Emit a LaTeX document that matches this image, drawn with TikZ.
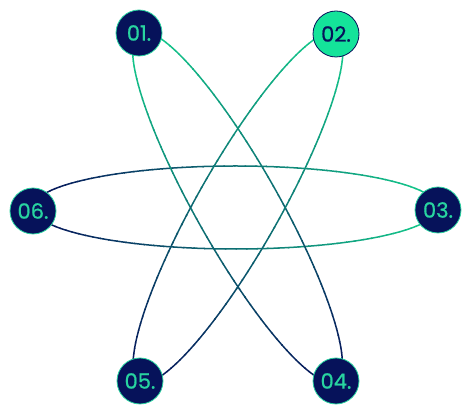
\documentclass[tikz,border=0pt]{standalone}
\usepackage{fontspec}
\setmainfont{Poppins}
\newfontfamily\numfont{Poppins}[FakeBold=0.8]
\definecolor{navy}{RGB}{6,18,90}
\definecolor{mint}{RGB}{20,227,154}
\definecolor{linegreen}{RGB}{20,206,140}
\definecolor{txtgreen}{RGB}{40,212,160}
\newcommand\gradEll[5]{%
  \begin{scope}[shift={(#1,#2)}, rotate=#5]
  \foreach \t in {0,3,...,357}{%
    \pgfmathsetmacro\p{50+50*cos(\t+1.5)}%
    \draw[color=linegreen!\p!navy, line width=1.5pt] (\t:#3 and #4) arc[start angle=\t, end angle=\t+3.4, x radius=#3, y radius=#4];
  }
  \end{scope}}
\begin{document}
\begin{tikzpicture}[x=1pt,y=1pt,
  dot/.style={circle, minimum size=46pt, inner sep=0pt, line width=0.8pt, font=\numfont\fontsize{21}{21}\selectfont},
  darkdot/.style={dot, fill=navy, draw=txtgreen, text=txtgreen},
  lightdot/.style={dot, fill=mint, draw=navy, text=navy}]
\useasboundingbox (0,0) rectangle (472,415);
\gradEll{235.5}{207.5}{202.5}{41.5}{0}
\gradEll{237.5}{208}{200}{41.5}{119.5}
\gradEll{238}{207.5}{200}{41.5}{60.5}
\node[darkdot] (n1) at (139,382) {01.};
\node[lightdot] (n2) at (336,381) {02.};
\node[darkdot] (n3) at (438,205) {03.};
\node[darkdot] (n4) at (336,34) {04.};
\node[darkdot] (n5) at (140,34) {05.};
\node[darkdot] (n6) at (33,204) {06.};
\end{tikzpicture}
\end{document}
